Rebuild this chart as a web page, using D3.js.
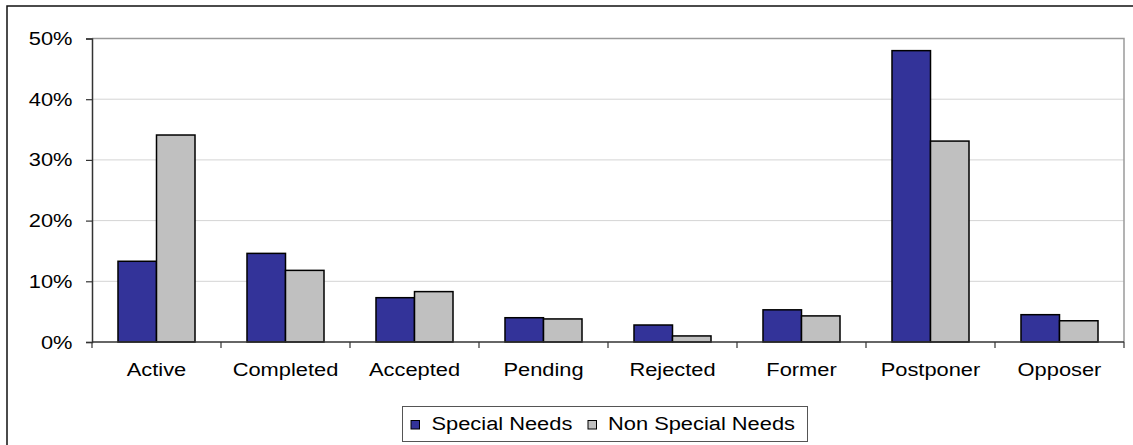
<!DOCTYPE html>
<html>
<head>
<meta charset="utf-8">
<script src="https://cdn.jsdelivr.net/npm/d3@7/dist/d3.min.js"></script>
<style>
  html, body { margin: 0; padding: 0; background: #fff; }
  svg { display: block; }
  text { font-family: "Liberation Sans", Arial, sans-serif; fill: #000; }
</style>
</head>
<body>
<svg id="chart" width="1133" height="445"></svg>
<script>
// Share of cases by status, split by special-needs group (percent)
const categories = ["Active", "Completed", "Accepted", "Pending", "Rejected", "Former", "Postponer", "Opposer"];
const seriesNames = ["Special Needs", "Non Special Needs"];
const specialNeeds = [13.3, 14.6, 7.3, 4.0, 2.8, 5.3, 48.0, 4.5];
const nonSpecialNeeds = [34.1, 11.8, 8.3, 3.8, 1.0, 4.3, 33.1, 3.5];
const yTicks = [0, 10, 20, 30, 40, 50];
const colors = ["#333399", "#c0c0c0"];

const svg = d3.select("#chart");
const W = 1133, H = 445;
const plot = { left: 92, right: 1124, top: 38.5, bottom: 342 };
const stretch = 1.15;   // wide text face
const fontSize = 19;

// outer chart frame
svg.append("rect")
  .attr("x", 7).attr("y", 6)
  .attr("width", W + 20).attr("height", H + 20)
  .attr("fill", "none").attr("stroke", "#111").attr("stroke-width", 1.5);

const x = d3.scaleBand()
  .domain(categories)
  .range([plot.left, plot.right])
  .paddingInner(0.403)
  .paddingOuter(0.2015);

const xs = d3.scaleBand()
  .domain(seriesNames)
  .range([0, x.bandwidth()]);

const y = d3.scaleLinear().domain([0, 50]).range([plot.bottom, plot.top]);

// gridlines
svg.append("g")
  .selectAll("line")
  .data(yTicks.filter(t => t > 0 && t < 50))
  .join("line")
  .attr("x1", plot.left).attr("x2", plot.right)
  .attr("y1", d => y(d)).attr("y2", d => y(d))
  .attr("stroke", "#d4d4d4").attr("stroke-width", 1);

// plot area top and right border
svg.append("path")
  .attr("d", `M${plot.left},${y(50)}H${plot.right}V${plot.bottom}`)
  .attr("fill", "none").attr("stroke", "#9a9a9a").attr("stroke-width", 1.5);

// bars
const rows = categories.map((c, i) => ({ cat: c, vals: [specialNeeds[i], nonSpecialNeeds[i]] }));
const groups = svg.append("g").selectAll("g")
  .data(rows)
  .join("g")
  .attr("transform", d => `translate(${x(d.cat)},0)`);

groups.selectAll("rect")
  .data(d => d.vals.map((v, k) => ({ name: seriesNames[k], v, k })))
  .join("rect")
  .attr("x", d => xs(d.name))
  .attr("width", xs.bandwidth())
  .attr("y", d => y(d.v))
  .attr("height", d => y(0) - y(d.v))
  .attr("fill", d => colors[d.k])
  .attr("stroke", "#000").attr("stroke-width", 1.5);

// y axis
const yAxis = svg.append("g")
  .attr("transform", `translate(${plot.left},0)`)
  .call(d3.axisLeft(y).tickValues(yTicks).tickFormat(d => d + "%").tickSize(6).tickPadding(11));
yAxis.select(".domain").attr("stroke", "#333").attr("stroke-width", 1.5);
yAxis.selectAll(".tick line").attr("stroke", "#333").attr("stroke-width", 1.2);
yAxis.selectAll(".tick text")
  .style("font-size", fontSize + "px")
  .style("font-family", "'Liberation Sans', Arial, sans-serif")
  .attr("fill", "#000")
  .attr("transform", `scale(${stretch},1)`);

// x axis: labels at band centres
const xAxis = svg.append("g")
  .attr("transform", `translate(0,${plot.bottom})`)
  .call(d3.axisBottom(x).tickSize(0).tickPadding(21));
xAxis.select(".domain").remove();
xAxis.selectAll(".tick text")
  .style("font-size", fontSize + "px")
  .style("font-family", "'Liberation Sans', Arial, sans-serif")
  .attr("fill", "#000")
  .attr("transform", `scale(${stretch},1)`);

// x axis line and category boundary ticks
const boundaries = d3.range(categories.length + 1).map(i => plot.left + i * x.step());
svg.append("line")
  .attr("x1", plot.left).attr("x2", plot.right)
  .attr("y1", plot.bottom).attr("y2", plot.bottom)
  .attr("stroke", "#333").attr("stroke-width", 1.5);
svg.append("g").selectAll("line")
  .data(boundaries)
  .join("line")
  .attr("x1", d => d).attr("x2", d => d)
  .attr("y1", plot.bottom).attr("y2", plot.bottom + 6)
  .attr("stroke", "#333").attr("stroke-width", 1.2);

// legend
const legend = svg.append("g");
legend.append("rect")
  .attr("x", 402.5).attr("y", 406.5).attr("width", 405).attr("height", 35)
  .attr("fill", "#fff").attr("stroke", "#555").attr("stroke-width", 1);
const legendItems = [
  { name: seriesNames[0], mx: 411, tx: 431.5 },
  { name: seriesNames[1], mx: 588, tx: 608 }
];
legendItems.forEach((it, k) => {
  legend.append("rect")
    .attr("x", it.mx).attr("y", 420.5).attr("width", 8.5).attr("height", 8.5)
    .attr("fill", colors[k]).attr("stroke", "#000").attr("stroke-width", 1);
  legend.append("text")
    .attr("x", it.tx / stretch).attr("y", 430.5)
    .attr("transform", `scale(${stretch},1)`)
    .style("font-size", fontSize + "px")
    .text(it.name);
});
</script>
</body>
</html>
